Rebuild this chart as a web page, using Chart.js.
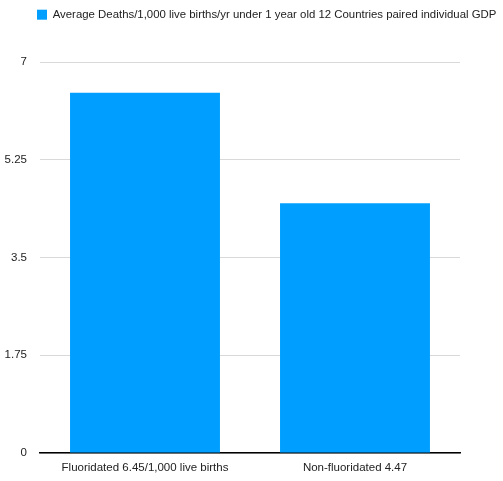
<!DOCTYPE html>
<html>
<head>
<meta charset="utf-8">
<script src="https://cdn.jsdelivr.net/npm/chart.js@4/dist/chart.umd.min.js"></script>
<style>
  html, body { margin: 0; padding: 0; background: #fff; }
  #wrap { width: 503px; height: 481px; }
</style>
</head>
<body>
<div id="wrap"><canvas id="chart"></canvas></div>
<script>
const categories = ["Fluoridated 6.45/1,000 live births", "Non-fluoridated 4.47"];
const deaths = [6.45, 4.47];
const seriesLabel = "Average Deaths/1,000 live births/yr under 1 year old 12 Countries paired individual GDP";
const yTicks = [0, 1.75, 3.5, 5.25, 7];

const font = "'Liberation Sans', Arial, sans-serif";

// legend sits high above the plot and a bit indented: give it room and shift it
const legendGap = {
  id: "legendGap",
  beforeLayout(chart) {
    const lg = chart.legend;
    if (lg && !lg._gapDone) {
      const fit = lg.fit;
      lg.fit = function () { fit.call(this); this.height = 53; };
      lg._gapDone = true;
    }
  },
  afterLayout(chart) {
    if (chart.legend) chart.legend.left = 37;
  }
};

new Chart(document.getElementById("chart"), {
  type: "bar",
  data: {
    labels: categories,
    datasets: [{
      label: seriesLabel,
      data: deaths,
      backgroundColor: "#009fff",
      borderWidth: 0,
      categoryPercentage: 1,
      barPercentage: 0.714
    }]
  },
  options: {
    responsive: true,
    maintainAspectRatio: false,
    animation: false,
    layout: { padding: { left: 0, right: 0, top: 9, bottom: 0 } },
    plugins: {
      tooltip: { enabled: false },
      legend: {
        position: "top",
        align: "start",
        labels: {
          boxWidth: 10, boxHeight: 10, padding: 0,
          color: "#222",
          font: { family: font, size: 11.4 }
        }
      }
    },
    scales: {
      x: {
        grid: { display: false, drawTicks: false },
        border: { display: true, color: "#000", width: 1.5 },
        afterFit: (axis) => { axis.height = 28; },
        ticks: { color: "#222", padding: 8, font: { family: font, size: 11.5 } }
      },
      y: {
        min: 0, max: 7,
        afterBuildTicks: (axis) => { axis.ticks = yTicks.map((v) => ({ value: v })); },
        afterFit: (axis) => { axis.width = 40; },
        grid: { color: "#d9d9d9", drawTicks: false },
        border: { display: false },
        ticks: {
          color: "#222", padding: 13, font: { family: font, size: 11.5 },
          callback: (v) => String(v)
        }
      },
      gapRight: {
        position: "right",
        min: 0, max: 1,
        afterFit: (axis) => { axis.width = 43; },
        grid: { display: false, drawTicks: false },
        border: { display: false },
        ticks: { display: false }
      }
    }
  },
  plugins: [legendGap]
});
</script>
</body>
</html>
